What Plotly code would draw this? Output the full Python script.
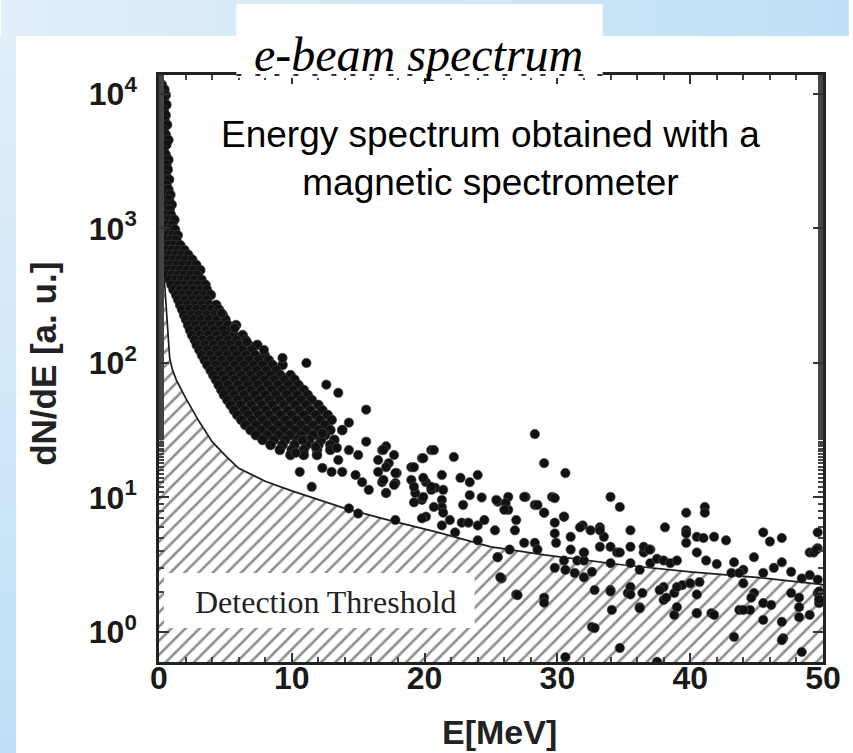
import plotly.graph_objects as go

# ---------------- data ----------------
x_range = [0, 50]
y_log_range = [-0.223, 4.141]

y_tick_vals = [1, 10, 100, 1000, 10000]
y_tick_text = ["10<sup>0</sup>", "10<sup>1</sup>", "10<sup>2</sup>", "10<sup>3</sup>", "10<sup>4</sup>"]
x_tick_vals = [0, 10, 20, 30, 40, 50]

# detection threshold curve
threshold_E = [0.05, 0.2, 0.35, 0.5, 0.65, 0.8, 1.0, 1.3, 2.0, 3.0, 4.0, 5.0, 6.0, 8.0,
               10.0, 12.0, 14.0, 17.0, 21.0, 25.0, 29.0, 35.0, 40.0, 45.0, 50.0]
threshold_v = [1100, 900, 500, 300, 170, 110, 90, 75, 55, 37, 26, 20.5, 16.5, 13.2,
               11.2, 9.6, 8.3, 6.9, 5.5, 4.3, 3.75, 3.15, 2.8, 2.55, 2.25]
fill_floor = 0.1

# dense low-energy band: one row per dN/dE level, with the energies of the dots on it
band_rows = [
    (11700, [0.2]), (10800, [0.05, 0.4]), (9800, [0.25, 0.5]), (9020, [0.1, 0.35]),
    (8300, [0.2, 0.55]), (7600, [0.05, 0.35]), (6950, [0.2, 0.5]), (6410, [0.1, 0.4]),
    (5900, [0.25, 0.6]), (5400, [0.05, 0.35]), (4970, [0.2, 0.5]), (4550, [0.1, 0.4, 0.7]),
    (4200, [0.25, 0.55]), (3840, [0.05, 0.35]), (3530, [0.2, 0.5]), (3240, [0.1, 0.4, 0.7]),
    (2970, [0.25, 0.55]), (2740, [0.05, 0.35, 0.65]), (2500, [0.2, 0.5]),
    (2310, [0.1, 0.4, 0.75]), (2110, [0.25, 0.55]), (1950, [0.05, 0.35, 0.7]),
    (1780, [0.2, 0.5, 0.85]), (1640, [0.1, 0.4, 0.75]), (1500, [0.25, 0.6, 0.95]),
    (1380, [0.05, 0.4, 0.8]), (1260, [0.2, 0.55, 0.9]), (1160, [0.1, 0.45, 0.8, 1.15]),
    (1060, [0.3, 0.65, 1.0]), (980, [0.15, 0.5, 0.85, 1.2]), (890, [0.3, 0.7, 1.05, 1.4]),
    (820, [0.15, 0.5, 0.9, 1.3]), (750, [0.35, 0.75, 1.15, 1.6]),
    (690, [0.2, 0.6, 1.0, 1.45, 1.9]), (635, [0.4, 0.8, 1.25, 1.7, 2.2]),
    (585, [0.25, 0.65, 1.1, 1.55, 2.0, 2.5]), (535, [0.45, 0.9, 1.35, 1.8, 2.3, 2.8]),
    (490, [0.3, 0.7, 1.15, 1.6, 2.1, 2.6, 3.1]), (450, [0.55, 1.0, 1.45, 1.9, 2.4, 2.9]),
    (415, [0.8, 1.25, 1.7, 2.2, 2.7, 3.2]), (380, [0.95, 1.45, 1.95, 2.45, 2.95, 3.5]),
    (350, [1.1, 1.6, 2.1, 2.6, 3.1, 3.6]), (320, [1.3, 1.8, 2.3, 2.85, 3.4, 3.9]),
    (295, [1.45, 1.95, 2.5, 3.05, 3.6]), (270, [1.6, 2.15, 2.7, 3.25, 3.8, 4.3]),
    (250, [1.75, 2.3, 2.85, 3.4, 3.95, 4.5]), (227, [1.9, 2.45, 3.0, 3.6, 4.2, 4.8]),
    (210, [2.05, 2.6, 3.2, 3.8, 4.4, 5.0]), (191, [2.2, 2.8, 3.4, 4.0, 4.6, 5.2, 5.8]),
    (175, [2.35, 2.95, 3.55, 4.15, 4.8, 5.45]), (161, [2.5, 3.1, 3.7, 4.35, 5.0, 5.65, 6.3]),
    (148, [2.7, 3.3, 3.9, 4.55, 5.2, 5.85, 6.5]),
    (136, [2.85, 3.45, 4.1, 4.75, 5.4, 6.05, 6.75, 7.4]),
    (125, [3.05, 3.65, 4.3, 4.95, 5.6, 6.3, 7.0]),
    (114, [3.25, 3.85, 4.5, 5.15, 5.85, 6.55, 7.25, 7.95]),
    (105, [3.45, 4.1, 4.75, 5.4, 6.1, 6.8, 7.5, 8.25]),
    (96.5, [3.65, 4.3, 5.0, 5.7, 6.4, 7.1, 7.8, 8.55, 9.3]),
    (88, [3.9, 4.55, 5.25, 5.95, 6.65, 7.35, 8.1, 8.85]),
    (81, [4.1, 4.8, 5.5, 6.2, 6.9, 7.65, 8.4, 9.15, 9.9]),
    (75, [4.3, 5.0, 5.7, 6.45, 7.2, 7.95, 8.7, 9.45, 10.2]),
    (68.6, [4.5, 5.2, 5.95, 6.7, 7.45, 8.2, 8.95, 9.75, 10.5]),
    (63, [4.7, 5.45, 6.2, 6.95, 7.7, 8.5, 9.3, 10.1, 10.9]),
    (57.8, [4.9, 5.65, 6.4, 7.2, 8.0, 8.8, 9.6, 10.4, 11.2]),
    (53, [5.15, 5.9, 6.7, 7.5, 8.3, 9.1, 9.9, 10.7, 11.5]),
    (48.7, [5.4, 6.15, 6.95, 7.75, 8.55, 9.4, 10.25, 11.1, 12.0]),
    (44.5, [5.65, 6.45, 7.25, 8.05, 8.85, 9.7, 10.55, 11.4, 12.3]),
    (41, [5.9, 6.7, 7.5, 8.3, 9.15, 10.0, 10.9, 11.8, 12.7]),
    (37.7, [6.2, 7.0, 7.8, 8.65, 9.5, 10.35, 11.2, 12.1, 13.0]),
    (34.6, [6.5, 7.3, 8.15, 9.0, 9.85, 10.7, 11.6, 12.5]),
    (31.7, [6.9, 7.7, 8.55, 9.4, 10.25, 11.1, 12.0, 12.9, 13.8]),
    (29.1, [7.3, 8.15, 9.0, 9.85, 10.7, 11.6, 12.5]),
    (26.8, [7.8, 8.65, 9.5, 10.4, 11.3, 12.2, 13.2]),
    (24.6, [8.4, 9.3, 10.2, 11.1, 12.0, 12.9]),
    (22.6, [9.1, 10.0, 10.9, 11.9, 12.9]),
    (20.7, [9.9, 10.9, 11.9]),
]

# scattered dots
scatter_E = [4.7, 5.7, 6.6, 7.9, 9.3, 11.1, 12.6, 13.5, 15.6, 14.3, 15.6, 17.1,
             13.4, 14.3, 15.0, 16.8, 16.5, 17.3, 20.5, 19.8, 19.0, 20.1, 20.8, 21.3, 19.8,
             20.1, 21.3, 10.6, 11.5, 12.3, 13.5, 13.8, 14.8, 15.3, 15.8, 16.8, 17.1, 17.8,
             14.3, 15.0, 17.8, 16.5, 17.9, 19.0, 19.3, 20.5, 21.3, 13.0, 10.3, 11.8, 10.8, 12.3,
             16.9, 17.7, 17.1, 17.8, 16.9, 17.7, 17.1, 19.2, 19.9, 20.7, 22.2, 19.2, 19.2,
             19.9, 19.9, 20.5, 20.7, 21.3, 21.4, 19.8, 21.4, 21.9, 22.7, 23.4, 24.0, 22.9,
             23.4, 22.8, 23.3, 24.0, 24.3, 22.3, 24.0, 24.5, 25.3, 25.5, 26.3, 26.3, 26.9,
             26.8, 27.6, 28.3, 29.0, 29.6, 29.8, 29.8, 29.9, 30.5, 28.3, 29.0, 30.6, 27.5,
             28.3, 28.5, 26.4, 25.5, 25.8, 26.9, 29.0, 29.0, 29.8, 30.6, 31.3, 32.0, 32.6,
             31.0, 31.0, 31.5, 31.9, 32.5, 32.0, 33.2, 33.5, 34.0, 34.7, 32.8, 34.0, 34.1,
             32.6, 34.0, 34.5,
             31.7, 33.2, 35.5, 38.1, 39.7, 41.1, 41.1, 39.7, 39.7, 40.5, 41.0, 41.8, 40.5,
             41.2, 42.0, 45.5, 46.0, 46.9, 44.8, 43.3, 44.0, 46.3, 46.9, 47.6, 48.4, 49.0,
             49.0, 49.6, 43.1, 43.7, 44.0, 45.5, 44.8, 44.5, 45.5, 45.5, 46.9, 43.3, 43.7,
             47.0, 47.6, 48.2, 48.2, 49.0, 48.4, 49.6, 49.7, 49.6, 41.6, 40.5, 38.8, 38.8,
             38.0, 38.0, 39.4, 40.0, 40.7, 36.2, 36.4, 35.3, 34.0, 32.8, 34.7, 37.5, 30.6,
             25.7, 27.0, 25.5, 30.5, 32.0, 34.0, 35.5, 36.5, 37.0, 37.5, 38.0, 38.5, 39.0,
             36.2, 36.5, 37.0, 35.5, 34.7, 33.2, 32.0, 42.7, 49.6, 49.3, 39.7, 36.9, 49.5,
             35.5, 35.5, 37.7, 38.2, 39.0, 40.5, 39.0, 40.5, 41.8, 36.2, 44.0, 44.6, 46.1,
             46.9, 48.2, 49.7, 49.7, 25.4, 26.1, 26.0, 27.5, 28.5, 29.0, 29.8, 30.5]
scatter_v = [235, 182, 144, 125, 109, 100, 69, 60, 45, 36, 26, 24,
             23.4, 22.5, 20.7, 22.5, 19, 18, 22.5, 19.6, 16.8, 13.0, 11.8, 9.6, 9.6,
             7.2, 6.2, 15.5, 12, 16.6, 19, 15.5, 14.7, 13.0, 11.4, 13, 10.8, 12.8,
             8.3, 7.6, 6.8, 15.5, 15.2, 13.5, 10.8, 11.4, 8.5, 15.5, 21.5, 23.8, 26.7, 30,
             22.6, 20.7, 16.8, 15.2, 13.5, 12.4, 10.8, 16.8, 19.6, 22.5, 20, 12, 9.2,
             14, 10.1, 12, 8.5, 14.7, 11.4, 7.0, 7.7, 6.8, 14, 13, 14.7, 8.8,
             10.4, 6.5, 6.5, 6.2, 10, 5.5, 4.8, 6.8, 5.7, 9.3, 10.1, 8.1, 6.8,
             5.7, 10.1, 8.8, 7.7, 10.1, 6.5, 5.4, 4.6, 7.2, 29.6, 18, 15.2, 4.6,
             4.6, 4.1, 4.1, 3.6, 2.5, 1.9, 1.8, 1.65, 3.0, 2.9, 2.75, 2.55, 2.8,
             5.1, 4.1, 3.4, 6.2, 5.7, 3.9, 6.0, 5.1, 10.1, 8.5, 2.05, 2.05, 1.46,
             1.09, 4.3, 3.9,
             6.0, 5.7, 5.7, 6.0, 7.7, 8.5, 7.7, 5.7, 4.6, 5.1, 5.0, 5.1, 3.9,
             3.4, 3.2, 5.5, 4.7, 5.0, 3.6, 3.3, 2.9, 3.0, 3.3, 2.8, 2.5, 2.65,
             3.9, 4.2, 2.75, 2.75, 2.3, 2.75, 1.95, 1.46, 1.64, 1.23, 1.19, 0.92, 1.46,
             0.9, 1.95, 1.8, 1.29, 1.34, 0.71, 1.95, 1.64, 2.45, 1.38, 1.38, 1.34, 1.95,
             2.16, 1.73, 2.23, 2.3, 2.35, 1.53, 1.95, 1.95, 2.0, 1.07, 0.76, 0.6, 0.65,
             2.55, 1.88, 3.6, 3.4, 3.4, 3.25, 3.25, 3.9, 3.25, 3.5, 3.4, 3.25, 3.4,
             2.9, 4.3, 4.1, 4.3, 3.9, 4.3, 3.9, 4.8, 5.5, 3.9, 5.4, 4.1, 4.1,
             2.16, 1.9, 2.05, 1.8, 2.16, 1.9, 1.53, 1.38, 1.34, 1.5, 1.46, 1.8, 1.59,
             0.87, 1.53, 2.0, 1.75, 9.6, 9.1, 8.1, 10.1, 8.8, 7.7, 9.9, 7.2]

title_text = "e-beam spectrum"
note_text = "Energy spectrum obtained with a<br>magnetic spectrometer"
threshold_label = "Detection Threshold"
x_title = "E[MeV]"
y_title = "dN/dE [a. u.]"

# ---------------- figure ----------------
W, H = 853, 753
L, R, T, B = 159, 25, 75, 91
PW, PH = W - L - R, H - T - B


def px(xp):
    return (xp - L) / PW


def py(yp):
    return (H - B - yp) / PH


band_E = [e for v, row in band_rows for e in row]
band_v = [v for v, row in band_rows for _ in row]

fig = go.Figure()

# hatched detection-threshold region
fig.add_trace(go.Scatter(
    x=[0, 0] + threshold_E + [threshold_E[-1]],
    y=[fill_floor, threshold_v[0]] + threshold_v + [fill_floor],
    mode="lines", line=dict(width=0), fill="toself",
    fillcolor="white",
    fillpattern=dict(shape="/", size=10, solidity=0.26, fgcolor="#1e1e1e", bgcolor="white"),
    hoverinfo="skip", showlegend=False))
fig.add_trace(go.Scatter(
    x=threshold_E, y=threshold_v, mode="lines",
    line=dict(color="#1e1e1e", width=1.7), showlegend=False))
fig.add_trace(go.Scatter(
    x=band_E, y=band_v, mode="markers",
    marker=dict(size=10, color="#111111", line=dict(width=0.6, color="#444444")),
    showlegend=False))
fig.add_trace(go.Scatter(
    x=scatter_E, y=scatter_v, mode="markers",
    marker=dict(size=9.5, color="#111111", line=dict(width=0.6, color="#555555")),
    showlegend=False))

shapes = []
# slide background gradient strips (top and left)
n = 40
c0, c1 = (226, 239, 250), (190, 224, 246)
for i in range(n):
    t = i / (n - 1)
    col = "rgb(%d,%d,%d)" % tuple(round(a + (b - a) * t) for a, b in zip(c0, c1))
    shapes.append(dict(type="rect", xref="paper", yref="paper", layer="below",
                       x0=px(W * i / n), x1=px(W * (i + 1) / n + 1), y0=py(36), y1=py(-2),
                       line=dict(width=0), fillcolor=col))
    shapes.append(dict(type="rect", xref="paper", yref="paper", layer="below",
                       x0=px(-2), x1=px(15), y0=py(36 + (H - 36) * (i + 1) / n + 1),
                       y1=py(36 + (H - 36) * i / n),
                       line=dict(width=0), fillcolor=col))
# title box covering the frame top
shapes.append(dict(type="rect", xref="paper", yref="paper", layer="above",
                   x0=px(237), x1=px(606), y0=py(78), y1=py(4),
                   line=dict(width=0), fillcolor="white"))
# broken frame top under the title box
shapes.append(dict(type="line", xref="paper", yref="paper", layer="above",
                   x0=px(237), x1=px(606), y0=1, y1=1,
                   line=dict(color="#333333", width=2, dash="5px,14px")))
# white box behind the threshold label
shapes.append(dict(type="rect", xref="paper", yref="paper", layer="above",
                   x0=px(164), x1=px(477), y0=py(628), y1=py(573),
                   line=dict(width=0), fillcolor="white"))

annotations = [
    dict(text=title_text, xref="paper", yref="paper", x=px(420), y=py(54),
         showarrow=False, xanchor="center", yanchor="middle",
         font=dict(family="Liberation Serif", size=48, color="black", style="italic")),
    dict(text=note_text, xref="paper", yref="paper", x=px(493), y=py(158),
         showarrow=False, xanchor="center", yanchor="middle",
         font=dict(family="Liberation Sans", size=37, color="black")),
    dict(text=threshold_label, xref="paper", yref="paper", x=px(327), y=py(602),
         showarrow=False, xanchor="center", yanchor="middle",
         font=dict(family="Liberation Serif", size=32, color="#222222")),
    dict(text=x_title, xref="paper", yref="paper", x=px(502), y=py(732),
         showarrow=False, xanchor="center", yanchor="middle",
         font=dict(family="Liberation Sans", size=34, color="#222222", weight="bold")),
    dict(text=y_title, xref="paper", yref="paper", x=px(42), y=py(364),
         showarrow=False, xanchor="center", yanchor="middle", textangle=-90,
         font=dict(family="Liberation Sans", size=35, color="#222222", weight="bold")),
]

tick_font = dict(family="Liberation Sans", size=32, color="#1a1a1a", weight="bold")
fig.update_layout(
    width=W, height=H,
    margin=dict(l=L, r=R, t=T, b=B, pad=0),
    paper_bgcolor="white", plot_bgcolor="white",
    shapes=shapes, annotations=annotations,
    xaxis=dict(range=x_range, tickvals=x_tick_vals, ticks="inside", ticklen=9,
               tickwidth=1.5, tickcolor="#333", showline=True, linewidth=2.5,
               linecolor="#222", mirror="ticks", showgrid=False, zeroline=False,
               tickfont=tick_font, ticklabelstandoff=-14,
               minor=dict(dtick=2, ticks="inside", ticklen=5, tickcolor="#444", showgrid=False)),
    yaxis=dict(type="log", range=y_log_range, tickvals=y_tick_vals, ticktext=y_tick_text,
               ticks="inside", ticklen=10, tickwidth=1.5, tickcolor="#333",
               showline=True, linewidth=2.5, linecolor="#222", mirror="ticks",
               showgrid=False, zeroline=False, tickfont=tick_font, ticklabelstandoff=13,
               minor=dict(ticks="inside", ticklen=5, tickcolor="#444", showgrid=False)),
)

fig.write_html("out.html")
